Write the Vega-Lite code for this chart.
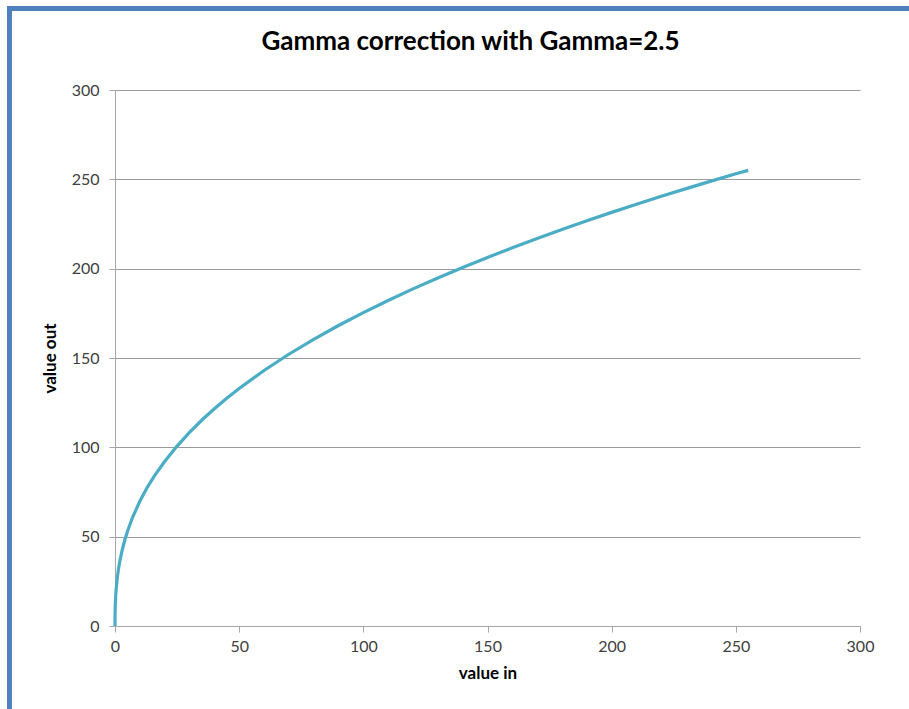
{
  "$schema": "https://vega.github.io/schema/vega-lite/v6.json",
  "width": 745,
  "height": 536,
  "autosize": {"type": "none"},
  "padding": {"left": 115, "top": 90, "right": 49, "bottom": 83},
  "background": "white",
  "config": {
    "view": {"stroke": null},
    "font": "Lato",
    "axis": {
      "labelFont": "Lato",
      "labelFontSize": 16,
      "labelColor": "#404040",
      "labelFlush": false,
      "titleFont": "Lato",
      "titleFontSize": 17,
      "titleFontWeight": "bold",
      "titleColor": "#000000",
      "domainColor": "#a6a6a6",
      "tickColor": "#a6a6a6",
      "gridColor": "#9a9a9a",
      "tickSize": 6
    }
  },
  "title": {
    "text": "Gamma correction with Gamma=2.5",
    "font": "Lato",
    "fontSize": 26,
    "fontWeight": "bold",
    "color": "#000000",
    "anchor": "middle",
    "dx": -17,
    "offset": -48
  },
  "data": {
    "values": [
      {"vin": 0, "vout": 0},
      {"vin": 0.02, "vout": 5.8},
      {"vin": 0.1, "vout": 11.1},
      {"vin": 0.3, "vout": 17.3},
      {"vin": 0.5, "vout": 21.1},
      {"vin": 1, "vout": 27.8},
      {"vin": 1.5, "vout": 32.7},
      {"vin": 2, "vout": 36.7},
      {"vin": 3, "vout": 43.1},
      {"vin": 4, "vout": 48.4},
      {"vin": 5, "vout": 52.9},
      {"vin": 7, "vout": 60.6},
      {"vin": 10, "vout": 69.8},
      {"vin": 13, "vout": 77.6},
      {"vin": 16, "vout": 84.3},
      {"vin": 20, "vout": 92.1},
      {"vin": 25, "vout": 100.7},
      {"vin": 30, "vout": 108.4},
      {"vin": 35, "vout": 115.3},
      {"vin": 40, "vout": 121.6},
      {"vin": 45, "vout": 127.5},
      {"vin": 50, "vout": 132.9},
      {"vin": 60, "vout": 143.0},
      {"vin": 70, "vout": 152.1},
      {"vin": 80, "vout": 160.4},
      {"vin": 90, "vout": 168.2},
      {"vin": 100, "vout": 175.4},
      {"vin": 110, "vout": 182.2},
      {"vin": 120, "vout": 188.7},
      {"vin": 130, "vout": 194.8},
      {"vin": 140, "vout": 200.7},
      {"vin": 150, "vout": 206.3},
      {"vin": 160, "vout": 211.7},
      {"vin": 170, "vout": 216.9},
      {"vin": 180, "vout": 221.9},
      {"vin": 190, "vout": 226.8},
      {"vin": 200, "vout": 231.5},
      {"vin": 210, "vout": 236.0},
      {"vin": 220, "vout": 240.5},
      {"vin": 230, "vout": 244.8},
      {"vin": 240, "vout": 249.0},
      {"vin": 250, "vout": 253.1},
      {"vin": 255, "vout": 255.0}
    ]
  },
  "layer": [
    {
      "mark": {"type": "line", "color": "#4bacc6", "strokeWidth": 3.2, "interpolate": "linear", "clip": false},
      "encoding": {
        "x": {
          "field": "vin",
          "type": "quantitative",
          "scale": {"domain": [0, 300], "nice": false, "zero": false},
          "axis": {
            "title": "value in",
            "values": [0, 50, 100, 150, 200, 250, 300],
            "grid": false,
            "labelPadding": 6,
            "titlePadding": 11
          }
        },
        "y": {
          "field": "vout",
          "type": "quantitative",
          "scale": {"domain": [0, 300], "nice": false, "zero": false},
          "axis": {
            "title": "value out",
            "values": [0, 50, 100, 150, 200, 250, 300],
            "grid": true,
            "labelPadding": 10,
            "titlePadding": 12
          }
        }
      }
    },
    {
      "mark": {"type": "rule", "color": "#4f81bd", "strokeWidth": 4, "clip": false},
      "encoding": {
        "x": {"datum": -42.5, "type": "quantitative"},
        "y": {"datum": 345.5, "type": "quantitative"},
        "y2": {"datum": -60}
      }
    },
    {
      "mark": {"type": "rule", "color": "#4f81bd", "strokeWidth": 4, "clip": false},
      "encoding": {
        "x": {"datum": -43.3, "type": "quantitative"},
        "x2": {"datum": 330},
        "y": {"datum": 345.5, "type": "quantitative"}
      }
    }
  ]
}
